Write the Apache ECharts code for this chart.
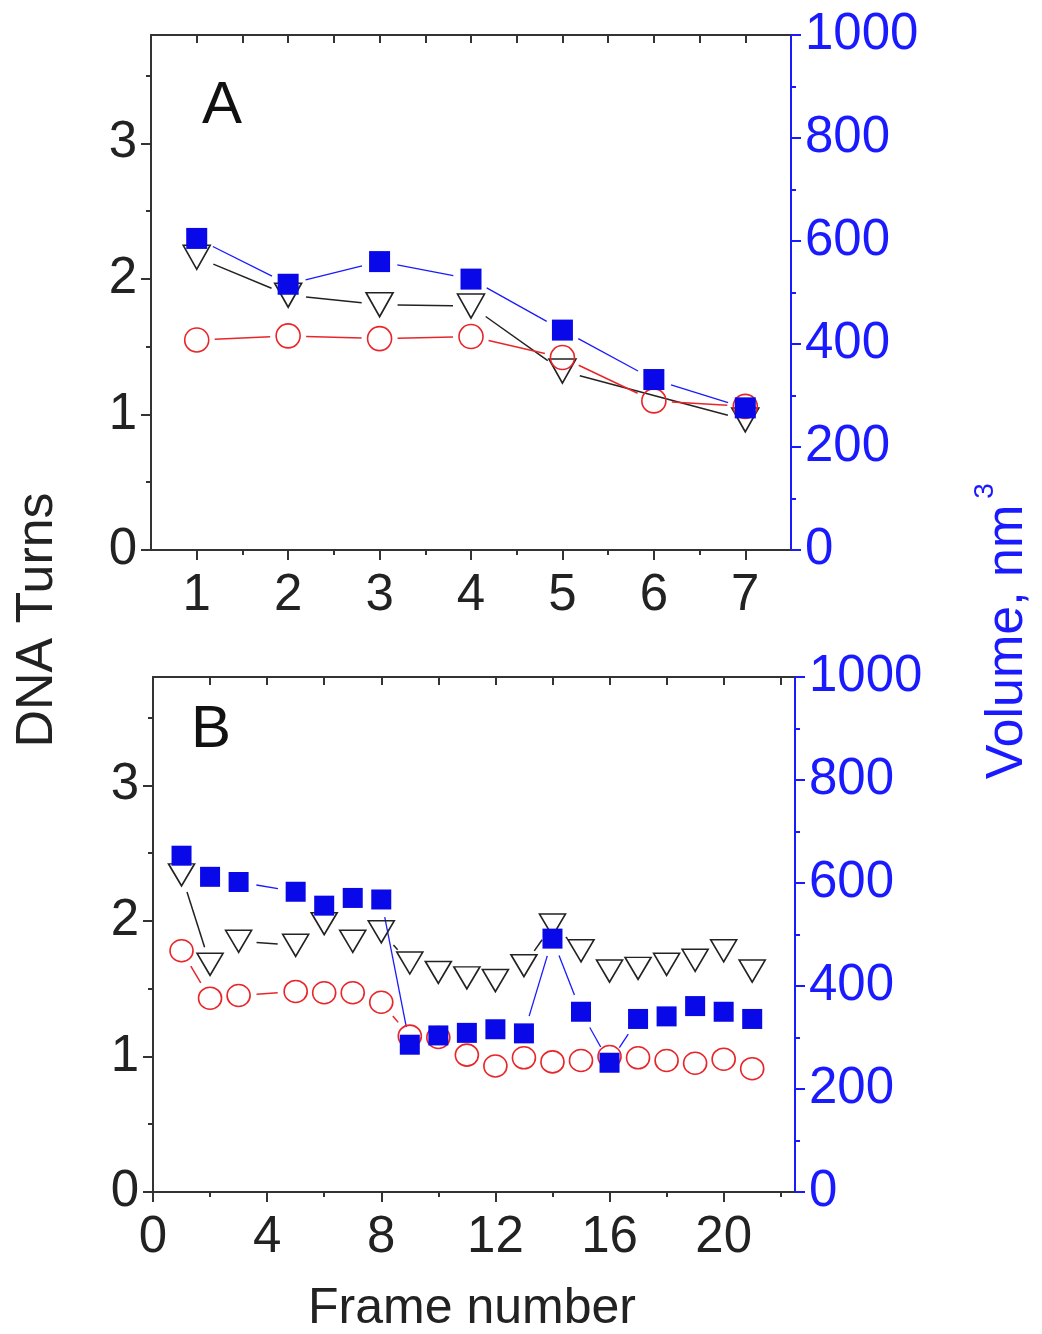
<!DOCTYPE html>
<html>
<head>
<meta charset="utf-8">
<script src="https://cdn.jsdelivr.net/npm/echarts@6/dist/echarts.min.js"></script>
<style>
  html, body { margin: 0; padding: 0; background: #fff; }
  #chart { width: 1042px; height: 1334px; }
</style>
</head>
<body>
<div id="chart"></div>
<script>
// panel A
var framesA = [1, 2, 3, 4, 5, 6, 7]
var turnsTriA = [2.16, 1.88, 1.81, 1.80, 1.32, null, 0.96]
var turnsCircA = [1.55, 1.58, 1.56, 1.575, 1.42, 1.10, 1.06]
var volumeA = [605, 516, 560, 526, 427, 331, 276]

// panel B (frame 4 missing)
var framesB = [1, 2, 3, 5, 6, 7, 8, 9, 10, 11, 12, 13, 14, 15, 16, 17, 18, 19, 20, 21]
var turnsTriB = [2.34, 1.68, 1.85, 1.82, 1.98, 1.85, 1.92, 1.69, 1.62, 1.58, 1.56, 1.67, 1.97, 1.78, 1.63, 1.65, 1.68, 1.71, 1.78, 1.63]
var turnsCircB = [1.78, 1.43, 1.45, 1.48, 1.47, 1.47, 1.40, 1.15, 1.14, 1.01, 0.93, 0.99, 0.96, 0.97, 1.00, 0.99, 0.97, 0.95, 0.98, 0.91]
var volumeB = [653, 612, 602, 583, 556, 571, 568, 286, 304, 309, 316, 308, 492, 350, 251, 336, 341, 361, 350, 336]

// ticks
var ticksXA = [1, 2, 3, 4, 5, 6, 7]
var minorXA = [1.5, 2.5, 3.5, 4.5, 5.5, 6.5]
var topXA = [1, 1.5, 2, 2.5, 3, 3.5, 4, 4.5, 5, 5.5, 6, 6.5, 7]
var ticksXB = [0, 4, 8, 12, 16, 20]
var minorXB = [2, 6, 10, 14, 18, 22]
var ticksTurns = [0, 1, 2, 3]
var minorTurns = [0.5, 1.5, 2.5, 3.5]

var FONT = '"Liberation Sans", Arial, sans-serif'
var AXIS = '#333'
var BLUE = '#1a1aff'
var GAP = 18

function points(xs, ys) {
  var out = []
  for (var i = 0; i < xs.length; i++) {
    if (ys[i] != null) out.push([xs[i], ys[i]])
  }
  return out
}

function segments(xs, ys) {
  var p = points(xs, ys)
  var out = []
  for (var i = 0; i < p.length - 1; i++) {
    out.push([p[i][0], p[i][1], p[i + 1][0], p[i + 1][1]])
  }
  return out
}

// line segments that stop short of the symbols
function gapLine(color, width) {
  return function (params, api) {
    var p0 = api.coord([api.value(0), api.value(1)])
    var p1 = api.coord([api.value(2), api.value(3)])
    var dx = p1[0] - p0[0]
    var dy = p1[1] - p0[1]
    var len = Math.sqrt(dx * dx + dy * dy)
    if (len <= 2 * GAP + 1) return null
    var ux = dx / len
    var uy = dy / len
    return {
      type: 'line',
      shape: { x1: p0[0] + ux * GAP, y1: p0[1] + uy * GAP, x2: p1[0] - ux * GAP, y2: p1[1] - uy * GAP },
      style: { stroke: color, lineWidth: width }
    }
  }
}

function lineSeries(xi, yi, xs, ys, color, width) {
  return {
    type: 'custom',
    xAxisIndex: xi,
    yAxisIndex: yi,
    renderItem: gapLine(color, width),
    encode: { x: [0, 2], y: [1, 3] },
    data: segments(xs, ys),
    silent: true,
    z: 1
  }
}

function triSeries(xi, yi, xs, ys, size) {
  return {
    type: 'scatter', xAxisIndex: xi, yAxisIndex: yi,
    symbol: 'triangle', symbolRotate: 180, symbolSize: size,
    itemStyle: { color: 'rgba(0,0,0,0)', borderColor: '#222', borderWidth: 1.6, opacity: 1 },
    data: points(xs, ys), z: 2
  }
}

function circSeries(xi, yi, xs, ys, size) {
  return {
    type: 'scatter', xAxisIndex: xi, yAxisIndex: yi,
    symbol: 'circle', symbolSize: size,
    itemStyle: { color: 'rgba(0,0,0,0)', borderColor: '#e8262a', borderWidth: 1.6, opacity: 1 },
    data: points(xs, ys), z: 3
  }
}

function sqSeries(xi, yi, xs, ys, size) {
  return {
    type: 'scatter', xAxisIndex: xi, yAxisIndex: yi,
    symbol: 'rect', symbolSize: size,
    itemStyle: { color: '#0808e8', opacity: 1 },
    data: points(xs, ys), z: 4
  }
}

function xAxis(grid, min, max, pos, ticks, len, inside, labels, line) {
  return {
    type: 'value', gridIndex: grid, min: min, max: max, position: pos,
    axisLine: { show: line, onZero: false, lineStyle: { color: AXIS, width: 2 } },
    axisTick: { show: true, inside: inside, length: len, customValues: ticks, lineStyle: { color: AXIS, width: 2 } },
    axisLabel: labels ? { show: true, customValues: labels, fontSize: 51, fontFamily: FONT, color: '#222', margin: 20 } : { show: false },
    splitLine: { show: false }
  }
}

function yTurns(grid, ticks, len, labels, line) {
  return {
    type: 'value', gridIndex: grid, min: 0, max: 3.8, position: 'left',
    axisLine: { show: line, onZero: false, lineStyle: { color: AXIS, width: 2 } },
    axisTick: { show: true, length: len, customValues: ticks, lineStyle: { color: AXIS, width: 2 } },
    axisLabel: labels ? { show: true, customValues: labels, fontSize: 51, fontFamily: FONT, color: '#222', margin: 14 } : { show: false },
    splitLine: { show: false }
  }
}

function yVolume(grid) {
  return {
    type: 'value', gridIndex: grid, min: 0, max: 1000, interval: 200, position: 'right',
    axisLine: { show: true, onZero: false, lineStyle: { color: BLUE, width: 2 } },
    axisTick: { show: true, length: 10, lineStyle: { color: BLUE, width: 2 } },
    minorTick: { show: true, splitNumber: 2, length: 5, lineStyle: { color: BLUE, width: 2 } },
    axisLabel: { fontSize: 51, fontFamily: FONT, color: BLUE, margin: 14, formatter: function (v) { return String(v) } },
    splitLine: { show: false }, minorSplitLine: { show: false }
  }
}

var chart = echarts.init(document.getElementById('chart'))
chart.setOption({
  animation: false,
  backgroundColor: '#fff',
  grid: [
    { left: 151, top: 35, width: 640, height: 515 },
    { left: 153, top: 677, width: 642, height: 515 }
  ],
  xAxis: [
    xAxis(0, 0.5, 7.5, 'bottom', ticksXA, 10, false, ticksXA, true),
    xAxis(0, 0.5, 7.5, 'bottom', minorXA, 5, false, null, false),
    xAxis(0, 0.5, 7.5, 'top', topXA, 8, true, null, true),
    xAxis(1, 0, 22.5, 'bottom', ticksXB, 10, false, ticksXB, true),
    xAxis(1, 0, 22.5, 'bottom', minorXB, 5, false, null, false),
    xAxis(1, 0, 22.5, 'top', minorXB.concat(ticksXB.slice(1)), 8, true, null, true)
  ],
  yAxis: [
    yTurns(0, ticksTurns, 10, ticksTurns, true),
    yTurns(0, minorTurns, 5, null, false),
    yVolume(0),
    yTurns(1, ticksTurns, 10, ticksTurns, true),
    yTurns(1, minorTurns, 5, null, false),
    yVolume(1)
  ],
  series: [
    lineSeries(0, 0, framesA, turnsTriA, '#222', 1.5),
    lineSeries(0, 0, framesA, turnsCircA, '#e8262a', 1.5),
    lineSeries(0, 2, framesA, volumeA, BLUE, 1.3),
    triSeries(0, 0, framesA, turnsTriA, [27, 24]),
    circSeries(0, 0, framesA, turnsCircA, [24, 24]),
    sqSeries(0, 2, framesA, volumeA, 21),

    lineSeries(3, 3, framesB, turnsTriB, '#222', 1.5),
    lineSeries(3, 3, framesB, turnsCircB, '#e8262a', 1.5),
    lineSeries(3, 5, framesB, volumeB, BLUE, 1.3),
    triSeries(3, 3, framesB, turnsTriB, [26, 22]),
    circSeries(3, 3, framesB, turnsCircB, [23, 22]),
    sqSeries(3, 5, framesB, volumeB, 20)
  ],
  graphic: [
    { type: 'text', x: 222, y: 106, style: { text: 'A', font: '60px ' + FONT, fill: '#111', align: 'center', verticalAlign: 'middle' } },
    { type: 'text', x: 211, y: 730, style: { text: 'B', font: '60px ' + FONT, fill: '#111', align: 'center', verticalAlign: 'middle' } },
    { type: 'text', x: 38, y: 620, rotation: Math.PI / 2, style: { text: 'DNA Turns', font: '52px ' + FONT, fill: '#222', align: 'center', verticalAlign: 'middle' } },
    { type: 'text', x: 1008, y: 642, rotation: Math.PI / 2, style: { text: 'Volume, nm', font: '52px ' + FONT, fill: BLUE, align: 'center', verticalAlign: 'middle' } },
    { type: 'text', x: 985, y: 491, rotation: Math.PI / 2, style: { text: '3', font: '28px ' + FONT, fill: BLUE, align: 'center', verticalAlign: 'middle' } },
    { type: 'text', x: 472, y: 1309, style: { text: 'Frame number', font: '50px ' + FONT, fill: '#222', align: 'center', verticalAlign: 'middle' } }
  ]
})
</script>
</body>
</html>
